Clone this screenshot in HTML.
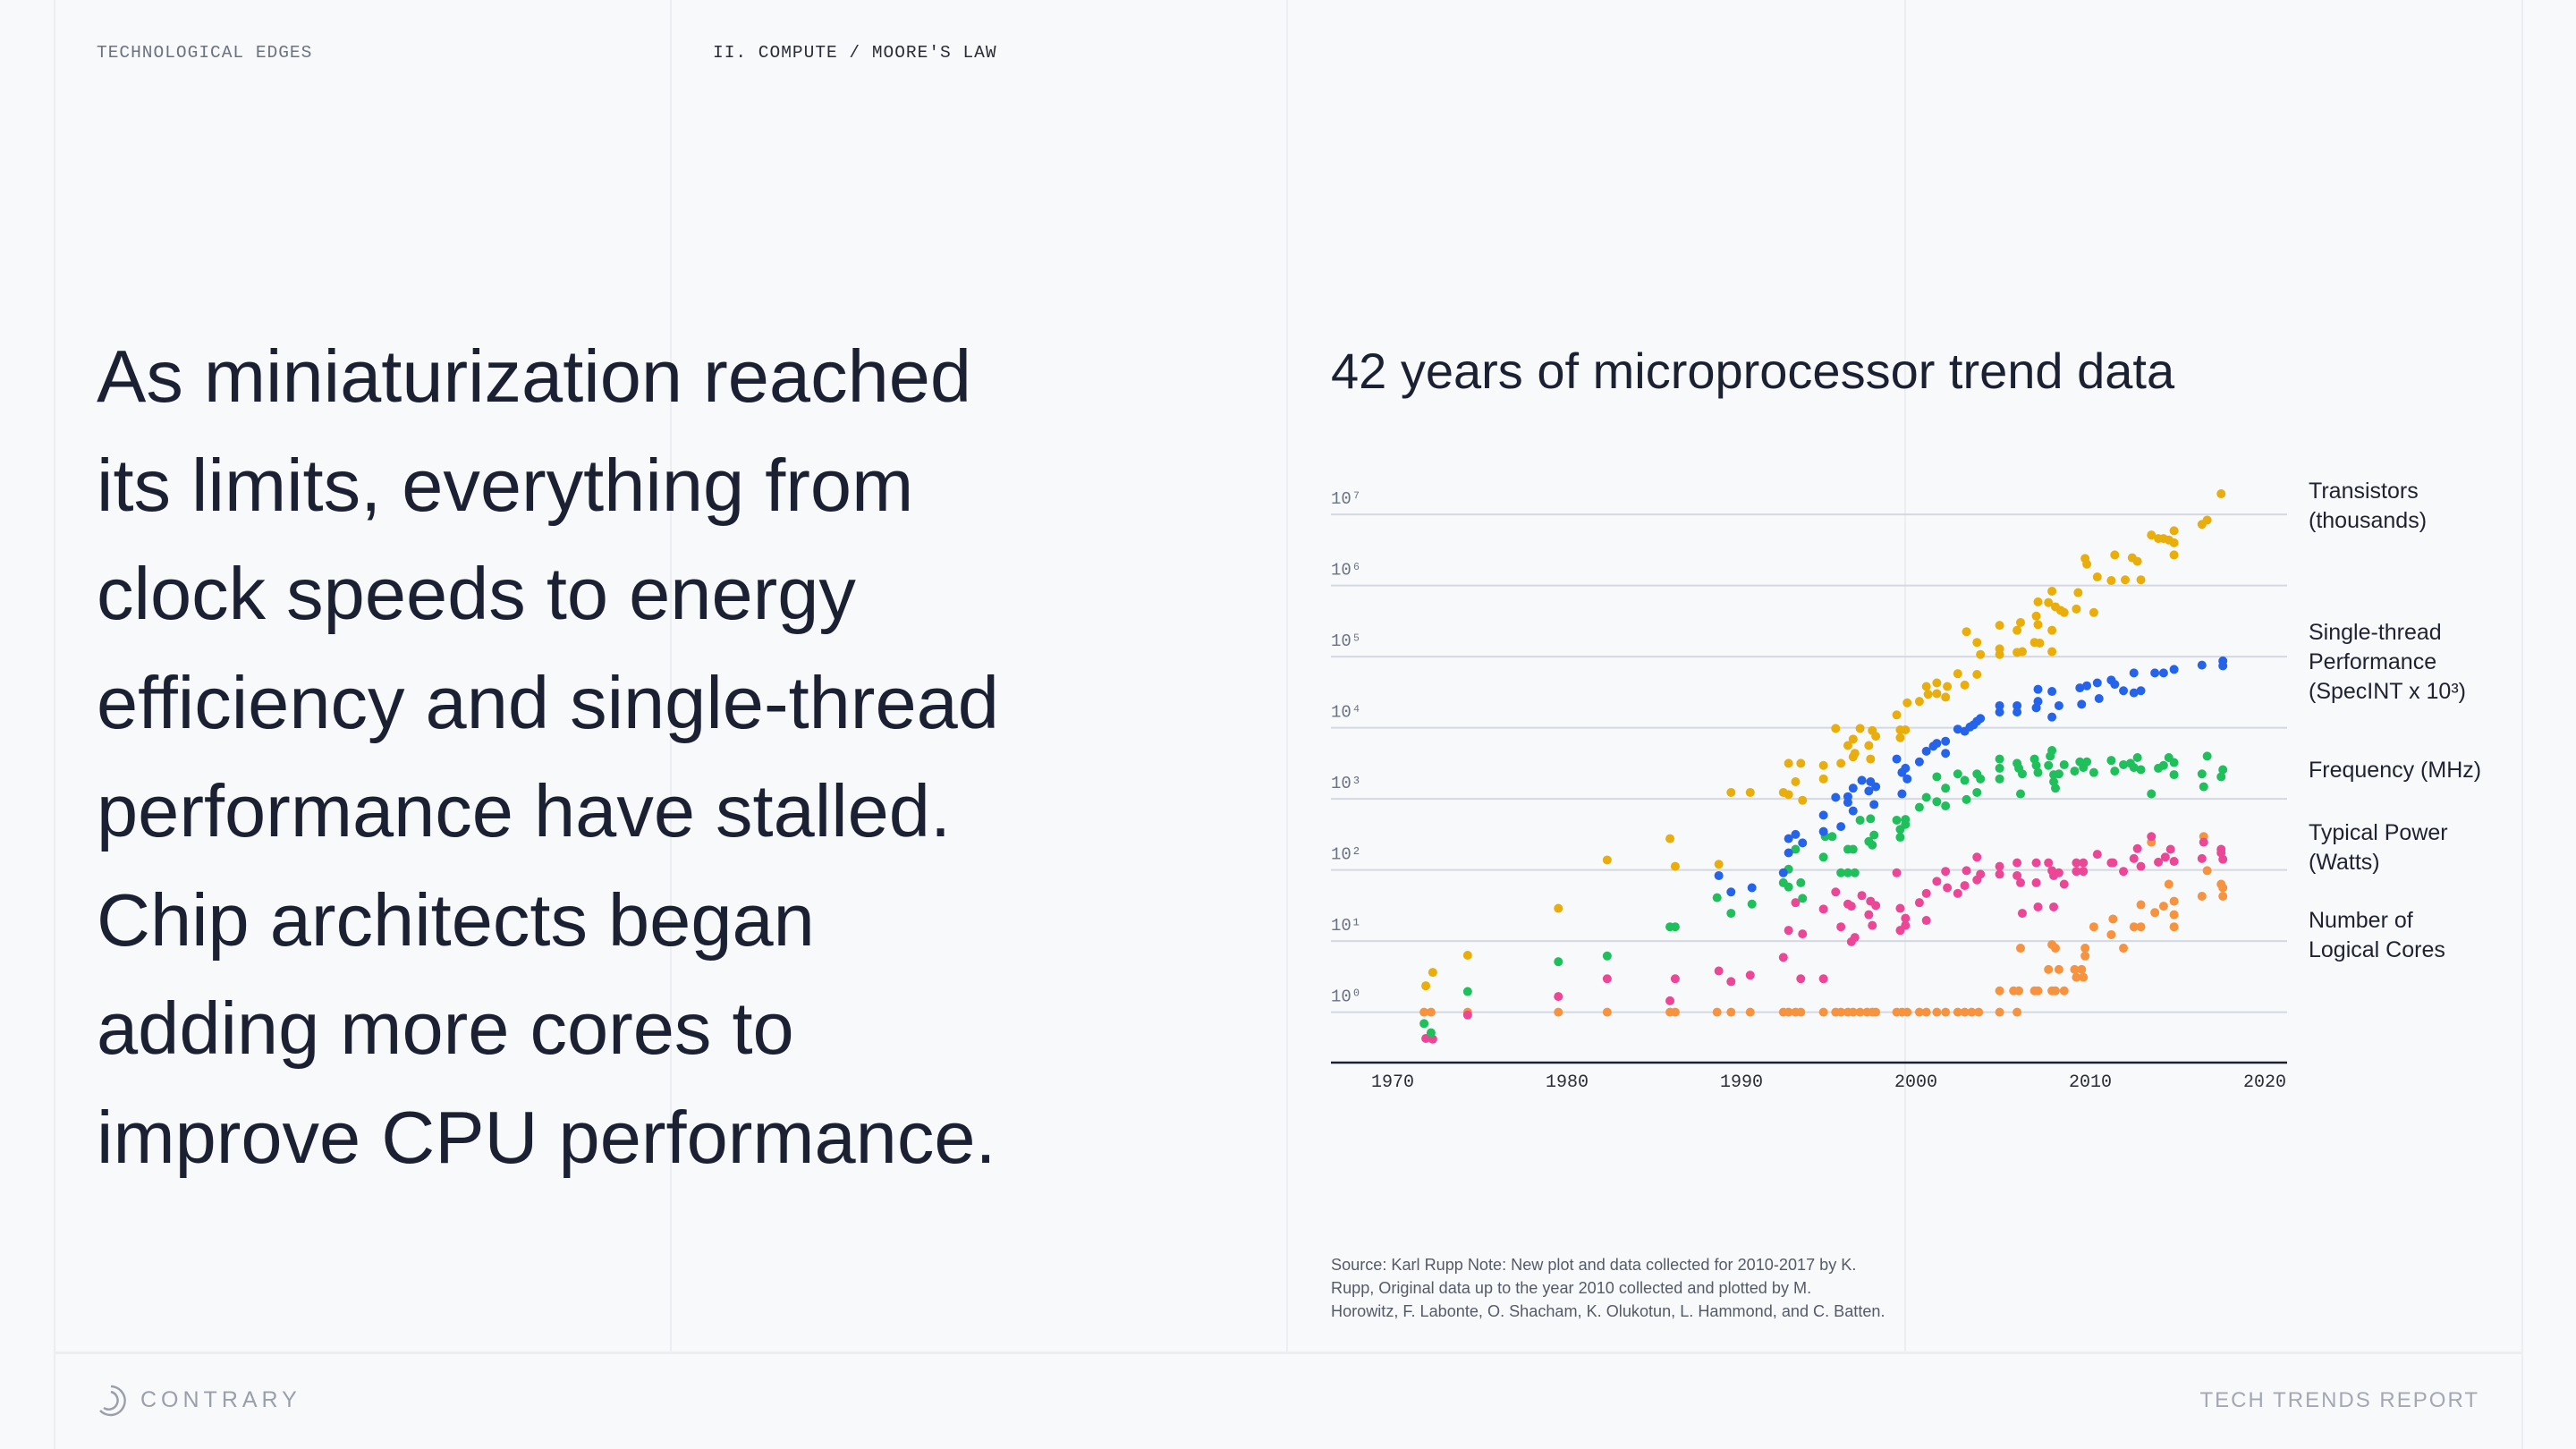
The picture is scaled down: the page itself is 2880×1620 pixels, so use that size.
<!DOCTYPE html>
<html><head><meta charset="utf-8">
<style>
html,body{margin:0;padding:0;width:2880px;height:1620px;background:#f8f9fa;overflow:hidden;font-family:"Liberation Sans",sans-serif;}
.v{position:absolute;top:0;width:2px;height:1512px;background:#eceef1;}
.abs{position:absolute;white-space:nowrap;}
.mono{font-family:"Liberation Mono",monospace;font-size:19.5px;letter-spacing:1px;}
.head{font-size:83px;line-height:121.5px;color:#1b2033;left:108px;top:360px;}
.rl{font-size:25px;line-height:33px;color:#1f2330;left:2581px;}
</style></head><body>
<div class="v" style="left:60px;height:1620px"></div>
<div class="v" style="left:749px"></div>
<div class="v" style="left:1438px"></div>
<div class="v" style="left:2129px"></div>
<div class="v" style="left:2819px;height:1620px"></div>
<div class="abs" style="left:60px;top:1511px;width:2761px;height:3px;background:#eceef1"></div>

<div class="abs mono" style="left:108px;top:48px;color:#6b7280">TECHNOLOGICAL EDGES</div>
<div class="abs mono" style="left:797px;top:48px;color:#2a2d36">II. COMPUTE / MOORE'S LAW</div>

<div class="abs head">As miniaturization reached<br>its limits, everything from<br>clock speeds to energy<br>efficiency and single-thread<br>performance have stalled.<br>Chip architects began<br>adding more cores to<br>improve CPU performance.</div>

<div class="abs" style="left:1488px;top:382px;font-size:56px;color:#1b2033">42 years of microprocessor trend data</div>

<div class="abs rl" style="top:533px">Transistors<br>(thousands)</div>
<div class="abs rl" style="top:691px">Single-thread<br>Performance<br>(SpecINT x 10³)</div>
<div class="abs rl" style="top:845px">Frequency (MHz)</div>
<div class="abs rl" style="top:915px">Typical Power<br>(Watts)</div>
<div class="abs rl" style="top:1013px">Number of<br>Logical Cores</div>

<div class="abs" style="left:1488px;top:1401px;font-size:18.1px;line-height:26px;color:#555b66">Source: Karl Rupp Note: New plot and data collected for 2010-2017 by K.<br>Rupp, Original data up to the year 2010 collected and plotted by M.<br>Horowitz, F. Labonte, O. Shacham, K. Olukotun, L. Hammond, and C. Batten.</div>

<svg class="abs" style="left:106px;top:1547px" width="36" height="38" viewBox="0 0 36 38"><path d="M18 3 A16 16 0 1 1 6 30" fill="none" stroke="#9aa0ab" stroke-width="2.5"/><path d="M18 9 A10 10 0 1 1 10 27" fill="none" stroke="#9aa0ab" stroke-width="2.5"/></svg>
<div class="abs" style="left:157px;top:1551px;font-size:25px;letter-spacing:5px;color:#9aa0ab">CONTRARY</div>
<div class="abs" style="right:108px;top:1552px;font-size:24px;letter-spacing:2px;color:#a3a8b2">TECH TRENDS REPORT</div>

<svg id="chart" class="abs" style="left:0;top:0" width="2880" height="1620"></svg>

<script>
const yearTicks=[1970,1980,1990,2000,2010,2020];
const expTicks=[0,1,2,3,4,5,6,7];
const supers=["⁰","¹","²","³","⁴","⁵","⁶","⁷"];
const transYears=[1971.9,1972.3,1974.3,1979.5,1982.3,1985.9,1986.2,1988.7,1989.4,1990.5,1992.4,1992.7,1992.7,1993.1,1993.4,1993.5,1994.7,1994.7,1995.4,1995.7,1996.1,1996.4,1996.4,1996.5,1996.8,1997.3,1997.4,1997.5,1997.7,1998.9,1999.1,1999.1,1999.4,1999.5,2000.2,2000.6,2000.7,2001.2,2001.2,2001.7,2001.8,2002.4,2002.8,2002.9,2003.5,2003.5,2003.7,2004.8,2004.8,2004.8,2005.8,2005.8,2006.0,2006.1,2006.8,2006.9,2007.0,2007.0,2007.1,2007.6,2007.8,2007.8,2007.8,2008.0,2008.3,2008.5,2009.2,2009.3,2009.7,2009.8,2010.2,2010.4,2011.2,2011.4,2012.0,2012.4,2012.7,2012.9,2013.5,2013.9,2014.2,2014.5,2014.8,2014.8,2014.8,2016.4,2016.7,2017.5];
const transLog=[0.37,0.56,0.80,1.46,2.14,2.44,2.05,2.08,3.09,3.09,3.09,3.50,3.06,3.24,3.50,2.98,3.47,3.28,3.99,3.50,3.75,3.84,3.59,3.64,3.99,3.75,3.56,3.96,3.88,4.18,3.97,3.86,3.97,4.35,4.37,4.58,4.47,4.63,4.48,4.43,4.58,4.76,4.60,5.35,5.20,4.75,5.03,5.44,5.11,5.03,5.37,5.06,5.48,5.07,5.20,5.57,5.45,5.77,5.19,5.76,5.37,5.92,5.07,5.70,5.65,5.62,5.67,5.90,6.38,6.30,5.62,6.12,6.07,6.43,6.08,6.39,6.34,6.08,6.71,6.66,6.66,6.64,6.60,6.77,6.43,6.86,6.92,7.29];
const perfYears=[1988.7,1989.4,1990.6,1992.4,1992.7,1992.7,1993.1,1993.5,1994.7,1994.7,1995.4,1995.7,1996.1,1996.1,1996.4,1996.4,1996.9,1997.3,1997.4,1997.7,1997.6,1998.9,1999.2,1999.2,1999.4,1999.5,2000.2,2000.6,2001.0,2001.2,2001.7,2001.7,2002.4,2002.8,2003.1,2003.3,2003.5,2003.7,2004.8,2004.8,2005.8,2005.8,2006.9,2007.0,2007.0,2007.8,2007.8,2008.2,2009.4,2009.5,2009.8,2010.4,2010.5,2011.2,2011.4,2011.9,2012.5,2012.5,2012.9,2013.7,2014.2,2014.8,2016.4,2017.6,2017.6];
const perfLog=[1.92,1.69,1.75,1.96,2.24,2.44,2.50,2.38,2.54,2.77,3.02,2.61,3.03,2.95,3.15,2.83,3.26,3.11,3.24,3.17,2.92,3.56,3.37,3.07,3.43,3.28,3.52,3.67,3.74,3.78,3.64,3.81,3.98,3.95,4.01,4.04,4.09,4.13,4.31,4.22,4.31,4.22,4.28,4.54,4.37,4.51,4.15,4.31,4.56,4.33,4.59,4.63,4.41,4.67,4.61,4.52,4.77,4.49,4.52,4.77,4.77,4.82,4.88,4.94,4.87];
const freqYears=[1971.8,1972.2,1974.3,1979.5,1982.3,1985.9,1986.2,1988.6,1989.4,1990.6,1992.4,1992.7,1992.7,1993.1,1993.4,1993.5,1994.7,1994.8,1995.2,1995.7,1996.1,1996.1,1996.4,1996.5,1996.8,1997.4,1997.3,1997.5,1997.6,1998.9,1999.1,1999.1,1999.4,1999.4,2000.2,2000.6,2001.2,2001.2,2001.7,2001.7,2002.4,2002.8,2002.9,2003.5,2003.5,2003.7,2004.8,2004.8,2004.8,2005.8,2005.9,2006.0,2006.1,2006.8,2006.9,2007.0,2007.6,2007.7,2007.8,2007.9,2007.9,2008.0,2008.2,2008.5,2009.1,2009.4,2009.6,2009.8,2010.2,2011.2,2011.4,2011.9,2012.3,2012.5,2012.7,2012.9,2013.5,2013.9,2014.2,2014.5,2014.8,2014.8,2016.4,2016.5,2016.7,2017.5,2017.6];
const freqLog=[-0.16,-0.29,0.29,0.71,0.79,1.20,1.20,1.61,1.39,1.52,1.82,1.76,2.01,2.29,1.82,1.60,2.18,2.47,2.47,1.96,2.29,1.96,2.29,1.96,2.70,2.72,2.40,2.35,2.49,2.70,2.57,2.46,2.71,2.64,2.88,3.02,2.96,3.31,2.90,3.15,3.35,3.26,2.99,3.35,3.09,3.28,3.56,3.43,3.28,3.50,3.43,3.07,3.35,3.56,3.47,3.37,3.47,3.60,3.68,3.34,3.24,3.15,3.35,3.48,3.39,3.52,3.44,3.52,3.37,3.54,3.39,3.48,3.50,3.44,3.58,3.41,3.07,3.43,3.47,3.58,3.51,3.34,3.35,3.17,3.60,3.31,3.41];
const powerYears=[1971.9,1972.3,1974.3,1979.5,1982.3,1985.9,1986.2,1988.7,1989.4,1990.5,1992.4,1992.7,1993.1,1993.4,1993.5,1994.7,1994.7,1995.4,1995.7,1996.1,1996.3,1996.3,1996.5,1996.9,1997.3,1997.4,1997.5,1997.7,1998.9,1999.1,1999.1,1999.4,1999.4,2000.2,2000.6,2000.6,2001.2,2001.7,2001.8,2002.4,2002.8,2002.9,2003.5,2003.5,2003.7,2004.8,2004.8,2005.8,2005.8,2006.0,2006.1,2006.9,2006.9,2007.0,2007.6,2007.8,2007.9,2007.9,2008.2,2008.5,2009.2,2009.2,2009.6,2009.6,2010.4,2011.2,2011.3,2011.9,2012.5,2012.7,2012.9,2013.5,2013.9,2014.3,2014.6,2014.8,2016.4,2016.5,2017.5,2017.5,2017.6];
const powerLog=[-0.37,-0.38,-0.04,0.22,0.47,0.16,0.47,0.58,0.43,0.52,0.77,1.15,1.54,0.47,1.10,0.47,1.45,1.69,1.20,1.52,1.49,0.99,1.05,1.64,1.37,1.56,1.22,1.50,1.96,1.46,1.15,1.32,1.22,1.54,1.29,1.67,1.84,1.98,1.75,1.67,1.78,1.99,2.18,1.86,1.94,2.05,1.94,2.10,1.92,1.82,1.39,2.10,1.82,1.48,2.10,1.99,1.48,1.92,1.96,1.80,2.10,1.98,2.10,1.98,2.22,2.10,2.10,1.98,2.16,2.30,2.05,2.47,2.11,2.18,2.29,2.12,2.16,2.39,2.29,2.24,2.15];
const coreYears=[1971.8,1972.2,1974.3,1979.5,1982.3,1985.9,1986.2,1988.6,1989.4,1990.5,1992.4,1992.7,1993.1,1993.4,1994.7,1995.4,1995.7,1996.1,1996.4,1996.8,1997.2,1997.5,1997.7,1998.9,1999.2,1999.5,2000.2,2000.6,2001.2,2001.7,2002.4,2002.8,2003.2,2003.6,2004.8,2005.8,2004.8,2005.6,2005.9,2006.8,2007.0,2007.8,2008.0,2008.5,2007.6,2008.2,2009.1,2009.5,2009.2,2009.6,2009.7,2006.0,2007.8,2008.0,2009.7,2011.9,2011.2,2010.2,2012.5,2012.9,2014.8,2011.3,2014.8,2013.7,2014.2,2012.9,2014.8,2016.4,2017.6,2014.5,2017.5,2017.6,2016.7,2013.5,2016.5];
const coreLog=[0,0,0,0,0,0,0,0,0,0,0,0,0,0,0,0,0,0,0,0,0,0,0,0,0,0,0,0,0,0,0,0,0,0,0,0,0.30,0.30,0.30,0.30,0.30,0.30,0.30,0.30,0.60,0.60,0.60,0.60,0.49,0.49,0.79,0.90,0.95,0.90,0.90,0.90,1.09,1.20,1.20,1.20,1.20,1.31,1.37,1.40,1.49,1.51,1.56,1.63,1.63,1.80,1.80,1.75,1.99,2.39,2.47];

const NS="http://www.w3.org/2000/svg";
const svg=document.getElementById('chart');
const X0=1557,PX_YEAR=19.5,Y0=1131.6,PX_DEC=79.5;
function xs(y){return X0+(y-1970)*PX_YEAR;}
function ys(v){return Y0-v*PX_DEC;}
function mk(tag,attrs){const e=document.createElementNS(NS,tag);for(const k in attrs)e.setAttribute(k,attrs[k]);svg.appendChild(e);return e;}

expTicks.forEach((d,i)=>{
  const l=mk('line',{x1:1488,x2:2557,y1:ys(d),y2:ys(d),stroke:'#d3d8e2','stroke-width':2});
  
  
  const t=mk('text',{x:1488,y:ys(d)-12,'font-size':19,fill:'#6b7280','font-family':'Liberation Mono, monospace'});
  t.textContent='10'+supers[d];
  
  
});
const ax=mk('line',{x1:1488,x2:2557,y1:1188,y2:1188,stroke:'#1b2033','stroke-width':2.5});


yearTicks.forEach(yr=>{
  const t=mk('text',{x:xs(yr),y:1215,'font-size':20,fill:'#2a2d36','text-anchor':'middle','font-family':'Liberation Mono, monospace'});
  t.textContent=yr;
  
  
});
function series(years,vals,color,name){
  years.forEach((yr,i)=>{
    const c=mk('circle',{cx:xs(yr),cy:ys(vals[i]),r:5,fill:color});
    
    
  });
}
series(coreYears,coreLog,'#f7923f','cores');
series(powerYears,powerLog,'#ec4696','power');
series(freqYears,freqLog,'#1fbf5c','frequency');
series(perfYears,perfLog,'#2563eb','performance');
series(transYears,transLog,'#e9ae0c','transistors');
</script>
</body></html>
